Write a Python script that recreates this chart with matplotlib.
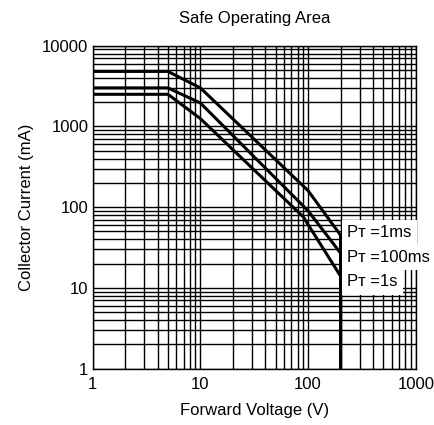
import matplotlib
matplotlib.use("Agg")
import matplotlib.pyplot as plt

plt.rcParams['font.family'] = ['Liberation Sans', 'DejaVu Sans']

# curve data
v_1ms = [1, 5, 10, 100, 200, 200]
i_1ms = [4800, 4800, 3000, 160, 45, 1]
v_100ms = [1, 5, 10, 100, 200, 200]
i_100ms = [3000, 3000, 1950, 90, 27, 1]
v_1s = [1, 5, 10, 90, 200, 200]
i_1s = [2500, 2500, 1250, 76, 14, 1]

labels = ['P\u1d1b =1ms', 'P\u1d1b =100ms', 'P\u1d1b =1s']
label_y = [48, 24, 11.9]

fig = plt.figure(figsize=(4.35, 4.25), dpi=100)
ax = fig.add_axes([0.213, 0.1325, 0.743, 0.76])

ax.set_xscale('log')
ax.set_yscale('log')
ax.set_xlim(1, 1000)
ax.set_ylim(1, 10000)

ax.grid(which='both', color='black', linewidth=1.0)
ax.set_axisbelow(True)

for v, i in [(v_1ms, i_1ms), (v_100ms, i_100ms), (v_1s, i_1s)]:
    ax.plot(v, i, color='black', linewidth=2.2, solid_joinstyle='miter')

for lab, y in zip(labels, label_y):
    ax.text(230, y, lab, fontsize=12, va='center', ha='left',
            bbox=dict(facecolor='white', edgecolor='none', pad=4))

ax.set_xticks([1, 10, 100, 1000])
ax.set_xticklabels(['1', '10', '100', '1000'])
ax.set_yticks([1, 10, 100, 1000, 10000])
ax.set_yticklabels(['1', '10', '100', '1000', '10000'])
ax.tick_params(which='both', length=0, labelsize=12, pad=3)
ax.tick_params(axis='x', pad=6)
for s in ax.spines.values():
    s.set_color('black')
    s.set_linewidth(1.0)

ax.set_title('Safe Operating Area', fontsize=12, pad=16)
ax.set_xlabel('Forward Voltage (V)', fontsize=12, labelpad=8)
ax.set_ylabel('Collector Current (mA)', fontsize=12, labelpad=6)

fig.savefig('out.png', dpi=100)
